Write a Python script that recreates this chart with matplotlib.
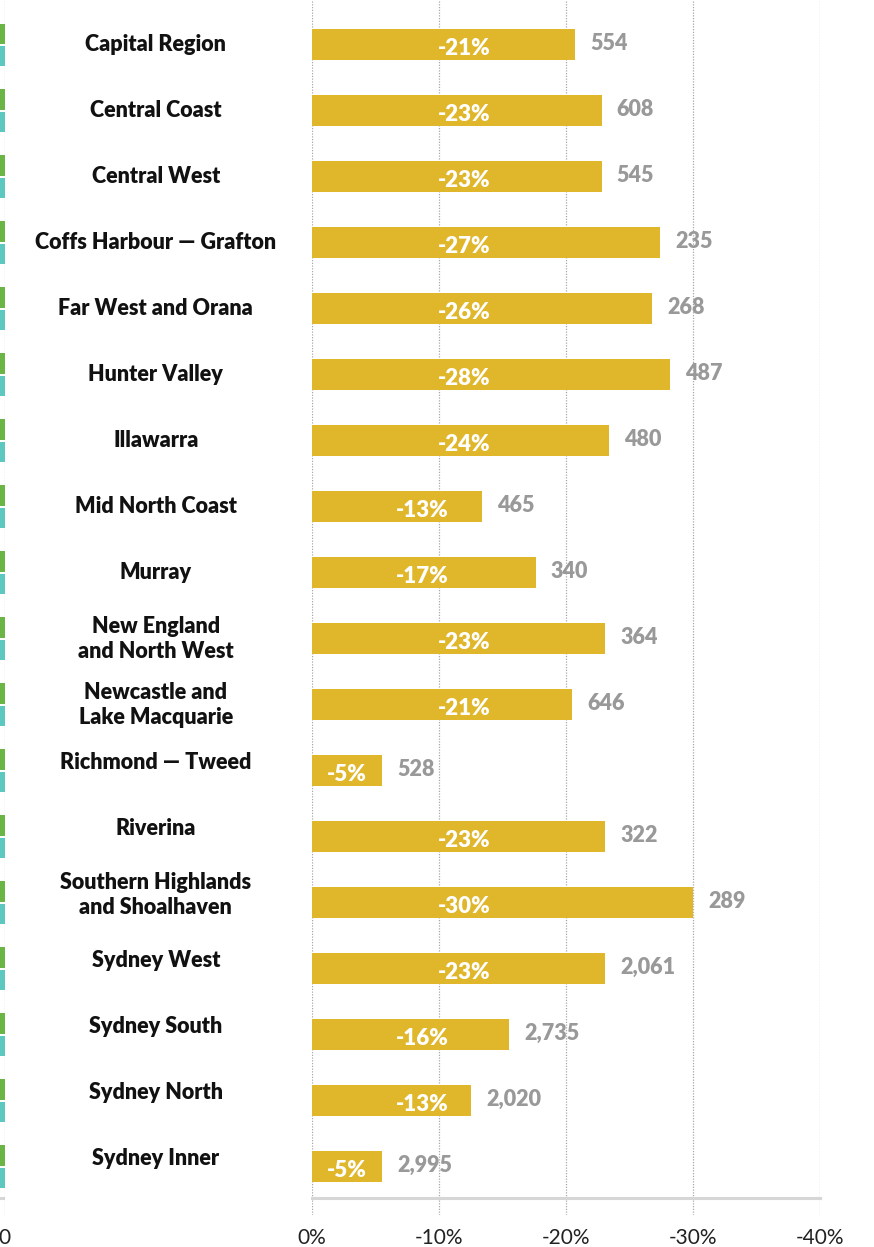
import matplotlib
matplotlib.use('Agg')
import matplotlib.pyplot as plt

plt.rcParams['font.family'] = ['Lato', 'DejaVu Sans']

regions = ['Capital Region', 'Central Coast', 'Central West', 'Coffs Harbour — Grafton',
           'Far West and Orana', 'Hunter Valley', 'Illawarra', 'Mid North Coast', 'Murray',
           'New England\nand North West', 'Newcastle and\nLake Macquarie', 'Richmond — Tweed',
           'Riverina', 'Southern Highlands\nand Shoalhaven', 'Sydney West', 'Sydney South',
           'Sydney North', 'Sydney Inner']
change = [20.7, 22.8, 22.8, 27.4, 26.8, 28.2, 23.4, 13.4, 17.6,
          23.1, 20.5, 5.5, 23.1, 30.0, 23.1, 15.5, 12.5, 5.5]
change_labels = ['-21%', '-23%', '-23%', '-27%', '-26%', '-28%', '-24%', '-13%', '-17%',
                 '-23%', '-21%', '-5%', '-23%', '-30%', '-23%', '-16%', '-13%', '-5%']
counts = ['554', '608', '545', '235', '268', '487', '480', '465', '340',
          '364', '646', '528', '322', '289', '2,061', '2,735', '2,020', '2,995']
ticks = [0, 10, 20, 30, 40]
tick_labels = ['0%', '-10%', '-20%', '-30%', '-40%']
# the neighbouring chart on the left is cut off, only its ends show
left_green = [10] * len(regions)
left_cyan = [10] * len(regions)

W, H = 874, 1247
fig = plt.figure(figsize=(W / 100, H / 100), dpi=100)

ybot = (H - 1215) / H
yh = (1215 - 1) / H
ylim = (17.73, -0.666)
base = 17.47
rows = list(range(len(regions)))

# main chart
ax = fig.add_axes([312 / W, ybot, (820 - 312) / W, yh])
ax.set_xlim(0, 40)
ax.set_ylim(*ylim)
for t in ticks:
    ax.axvline(t, color='#a8a8a8', lw=0.9, ls=(0, (1, 1.2)), zorder=0)
ax.barh(rows, change, height=0.47, color='#E0B62A', zorder=2)
ax.plot([0, 40], [base, base], color='#d6d6d6', lw=2.2, zorder=1, clip_on=False)

for i, (v, lab, n) in enumerate(zip(change, change_labels, counts)):
    if v > 20:
        cx = 12
    elif v > 10:
        cx = 8.7
    else:
        cx = v / 2
    # lower rows sit their names a touch higher than the bar
    dy = -0.12 if i >= 11 else 0
    ax.text(cx, i + 0.05, lab, color='white', fontsize=16, fontweight='heavy',
            ha='center', va='center', zorder=3)
    ax.text(v + 1.2, i - 0.02, n, color='#999999', fontsize=15.5, fontweight='heavy',
            ha='left', va='center', zorder=3)
    ax.text(-12.3, i + dy, regions[i], color='#111111', fontsize=15.5, fontweight='heavy',
            ha='center', va='center', linespacing=1.25, clip_on=False)

ax.set_xticks(ticks)
ax.set_xticklabels(tick_labels, fontsize=15, color='#222222')
ax.tick_params(axis='x', length=0, pad=9)
ax.set_yticks([])
for s in ax.spines.values():
    s.set_visible(False)

# left strip (edge of the neighbouring chart)
axl = fig.add_axes([-60 / W, ybot, 64.5 / W, yh])
axl.set_xlim(-10, 0)
axl.set_ylim(*ylim)
axl.axvline(0, color='#a8a8a8', lw=0.9, ls=(0, (1, 1.2)), zorder=3)
axl.barh([r - 0.17 for r in rows], [-g for g in left_green], height=0.31, color='#6AB545', zorder=2)
axl.barh([r + 0.17 for r in rows], [-c for c in left_cyan], height=0.30, color='#5CC8C0', zorder=2)
axl.plot([-10, 0], [base, base], color='#d6d6d6', lw=2.2, zorder=1)
axl.set_xticks([0])
axl.set_xticklabels(['0'], fontsize=15, color='#222222')
axl.tick_params(axis='x', length=0, pad=9)
axl.set_yticks([])
for s in axl.spines.values():
    s.set_visible(False)

fig.savefig('out.png', dpi=100)
